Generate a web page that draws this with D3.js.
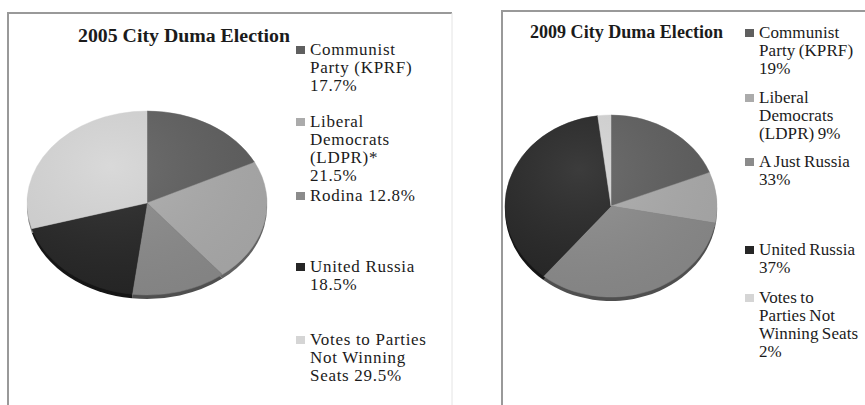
<!DOCTYPE html>
<html>
<head>
<meta charset="utf-8">
<script src="https://cdn.jsdelivr.net/npm/d3@7"></script>
<style>
  body { margin: 0; background: #fff; }
  text { font-family: "Liberation Serif", "Times New Roman", serif; fill: #1b1b1b; }
</style>
</head>
<body>
<svg id="chart" width="865" height="405"></svg>
<script>
// party order is the same in both charts apart from the 3rd slot
const parties2005 = ["Communist Party (KPRF)", "Liberal Democrats (LDPR)*", "Rodina", "United Russia", "Votes to Parties Not Winning Seats"];
const shares2005 = [17.7, 21.5, 12.8, 18.5, 29.5];
const legend2005 = [
  ["Communist", "Party (KPRF)", "17.7%"],
  ["Liberal", "Democrats", "(LDPR)*", "21.5%"],
  ["Rodina 12.8%"],
  ["United Russia", "18.5%"],
  ["Votes to Parties", "Not Winning", "Seats 29.5%"]
];

const parties2009 = ["Communist Party (KPRF)", "Liberal Democrats (LDPR)", "A Just Russia", "United Russia", "Votes to Parties Not Winning Seats"];
const shares2009 = [19, 9, 33, 37, 2];
const legend2009 = [
  ["Communist", "Party (KPRF)", "19%"],
  ["Liberal", "Democrats", "(LDPR) 9%"],
  ["A Just Russia", "33%"],
  ["United Russia", "37%"],
  ["Votes to", "Parties Not", "Winning Seats", "2%"]
];

const greys = ["#5f5f5f", "#ababab", "#8b8b8b", "#262626", "#d5d5d5"];

const svg = d3.select("#chart");

const panels = [
  {
    title: "2005 City Duma Election", titleX: 78, titleY: 42, titleW: 212,
    names: parties2005, values: shares2005, legend: legend2005,
    frame: { x: 8, y: 13, x2: 452, rightStroke: "#e4e4e4" },
    cx: 147, cy: 203, rx: 120, ry: 92,
    legX: 296, legY: [55, 127, 201, 272, 345], spacing: 0.7, wordSp: 0
  },
  {
    title: "2009 City Duma Election", titleX: 530, titleY: 38, titleW: 193,
    names: parties2009, values: shares2009, legend: legend2009,
    frame: { x: 502, y: 11, x2: 870, rightStroke: "none" },
    cx: 611, cy: 206, rx: 106, ry: 91,
    legX: 745, legY: [38, 103, 167, 255, 303], spacing: 0.1, wordSp: -1
  }
];

const color = d3.scaleOrdinal().domain(d3.range(5)).range(greys);
const pie = d3.pie().sort(null).value(d => d);
const lineH = 18;
const depth = 4;

// soft light from the top-left, like the office 3d pie
const defs = svg.append("defs");
const shine = defs.append("radialGradient").attr("id", "shine")
  .attr("cx", "35%").attr("cy", "30%").attr("r", "75%");
shine.append("stop").attr("offset", "0%").attr("stop-color", "#fff").attr("stop-opacity", 0.10);
shine.append("stop").attr("offset", "100%").attr("stop-color", "#000").attr("stop-opacity", 0.06);

panels.forEach(p => {
  const g = svg.append("g");

  // frame, cut off at the bottom like the screenshot
  const f = p.frame;
  g.append("path")
    .attr("d", `M${f.x},410V${f.y}H${f.x2}`)
    .attr("fill", "none").attr("stroke", "#999").attr("stroke-width", 2);
  g.append("line")
    .attr("x1", f.x2).attr("x2", f.x2).attr("y1", f.y).attr("y2", 410)
    .attr("stroke", f.rightStroke).attr("stroke-width", 1);

  g.append("text")
    .attr("x", p.titleX).attr("y", p.titleY)
    .attr("textLength", p.titleW).attr("lengthAdjust", "spacingAndGlyphs")
    .style("font-size", "18px").style("font-weight", "bold")
    .text(p.title);

  const arcs = pie(p.values);
  const arc = d3.arc().innerRadius(0).outerRadius(p.rx);
  const sy = p.ry / p.rx;

  // 3d side: darker copy pushed down a few px
  g.append("g")
    .attr("transform", `translate(${p.cx},${p.cy + depth}) scale(1,${sy})`)
    .selectAll("path").data(arcs).join("path")
    .attr("d", arc)
    .attr("fill", (d, i) => d3.color(color(i)).darker(1.6));

  const top = g.append("g")
    .attr("transform", `translate(${p.cx},${p.cy}) scale(1,${sy})`);
  top.selectAll("path.slice").data(arcs).join("path")
    .attr("class", "slice")
    .attr("d", arc)
    .attr("fill", (d, i) => color(i))
    .attr("stroke", (d, i) => color(i))
    .attr("stroke-width", 0.5);
  top.append("circle")
    .attr("r", p.rx)
    .attr("fill", "url(#shine)");

  // legend
  const leg = g.append("g");
  p.legend.forEach((lines, i) => {
    const y0 = p.legY[i];
    leg.append("rect")
      .attr("x", p.legX).attr("y", y0 - 9)
      .attr("width", 9).attr("height", 8)
      .attr("fill", color(i));
    const t = leg.append("text")
      .attr("y", y0)
      .style("font-size", "17px")
      .style("letter-spacing", p.spacing + "px")
      .style("word-spacing", p.wordSp + "px");
    t.selectAll("tspan").data(lines).join("tspan")
      .attr("x", p.legX + 14)
      .attr("y", (d, k) => y0 + k * lineH)
      .text(d => d);
  });
});
</script>
</body>
</html>
